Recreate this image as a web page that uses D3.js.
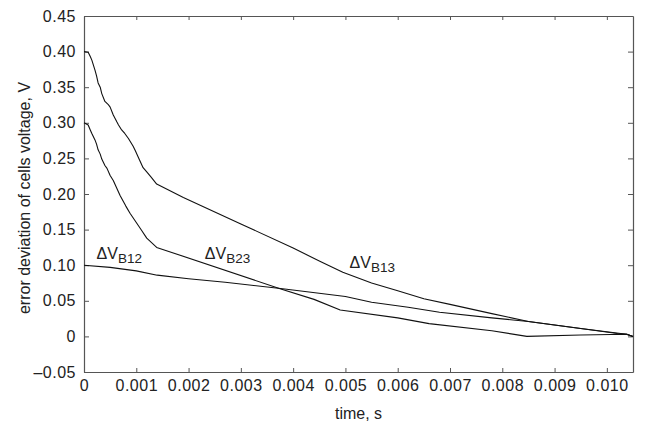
<!DOCTYPE html>
<html>
<head>
<meta charset="utf-8">
<script src="https://cdn.jsdelivr.net/npm/d3@7"></script>
<style>
  body { margin: 0; background: #fff; }
  svg text { font-family: "Liberation Sans", Arial, Helvetica, sans-serif; fill: #222; }
</style>
</head>
<body>
<div id="chart"></div>
<script>
// time (s) / voltage deviation (V) pairs
const dVB13 = [
    [0, 0.400], [0.00008, 0.399], [0.00012, 0.393], [0.00015, 0.388], [0.00021, 0.374],
    [0.00024, 0.366], [0.00027, 0.356], [0.00031, 0.350], [0.00034, 0.341], [0.0004, 0.330],
    [0.00046, 0.326], [0.0005, 0.322], [0.00056, 0.311], [0.00063, 0.301], [0.00066, 0.297],
    [0.00072, 0.290], [0.00078, 0.285], [0.00085, 0.278], [0.00094, 0.267], [0.00098, 0.261],
    [0.00106, 0.248], [0.00113, 0.237], [0.0012, 0.231], [0.00128, 0.224], [0.00139, 0.214],
    [0.0019, 0.195], [0.0030, 0.158], [0.0040, 0.124], [0.0045, 0.106], [0.00495, 0.090],
    [0.0055, 0.075], [0.0060, 0.064], [0.0065, 0.053], [0.0070, 0.045], [0.0078, 0.032],
    [0.0085, 0.021], [0.0095, 0.011], [0.0102, 0.004], [0.01038, 0.003], [0.0105, 0.0]
];
const dVB23 = [
    [0, 0.300], [0.00008, 0.297], [0.00012, 0.290], [0.00015, 0.285], [0.00021, 0.276],
    [0.00024, 0.270], [0.00027, 0.262], [0.00031, 0.256], [0.00034, 0.249], [0.0004, 0.240],
    [0.00044, 0.236], [0.0005, 0.226], [0.00056, 0.219], [0.00069, 0.198], [0.0008, 0.183],
    [0.00088, 0.173], [0.001, 0.160], [0.0011, 0.149], [0.0012, 0.138], [0.00139, 0.125],
    [0.00375, 0.067], [0.0044, 0.052], [0.0049, 0.037], [0.0060, 0.026], [0.0066, 0.018],
    [0.0078, 0.008], [0.00847, 0.000], [0.0095, 0.002], [0.01038, 0.003], [0.0105, 0.0]
];
const dVB12 = [
    [0, 0.100], [0.0005, 0.097], [0.0010, 0.092], [0.0014, 0.086], [0.0020, 0.081],
    [0.0027, 0.076], [0.0038, 0.067], [0.0050, 0.056], [0.0055, 0.048], [0.0062, 0.041],
    [0.0068, 0.034], [0.0078, 0.026], [0.0085, 0.021], [0.0095, 0.011], [0.01038, 0.003],
    [0.0105, 0.0]
];

const xTicks = [0, 0.001, 0.002, 0.003, 0.004, 0.005, 0.006, 0.007, 0.008, 0.009, 0.010];
const xTickLabels = ["0", "0.001", "0.002", "0.003", "0.004", "0.005", "0.006", "0.007", "0.008", "0.009", "0.010"];
const yTicks = [-0.05, 0, 0.05, 0.10, 0.15, 0.20, 0.25, 0.30, 0.35, 0.40, 0.45];
const yTickLabels = ["\u20130.05", "0", "0.05", "0.10", "0.15", "0.20", "0.25", "0.30", "0.35", "0.40", "0.45"];

// curve labels: subscript + anchor point in data units
const curveLabels = [
    { sub: "B12", t: 0.00024, v: 0.1094 },
    { sub: "B23", t: 0.00231, v: 0.1094 },
    { sub: "B13", t: 0.00508, v: 0.0961 }
];

const W = 648, H = 423;
const margin = { top: 16, right: 15, bottom: 51, left: 84 },
      width = W - margin.left - margin.right,
      height = H - margin.top - margin.bottom;

const svg = d3.select("#chart").append("svg")
    .attr("width", W)
    .attr("height", H);

const g = svg.append("g")
    .attr("transform", `translate(${margin.left},${margin.top})`);

const x = d3.scaleLinear().domain([0, 0.0105]).range([0, width]);
const y = d3.scaleLinear().domain([-0.05, 0.45]).range([height, 0]);

const axisColor = "#555";

function styleAxis(sel) {
    sel.select(".domain").attr("stroke", axisColor).attr("stroke-width", 1.2);
    sel.selectAll(".tick line").attr("stroke", axisColor).attr("stroke-width", 1);
    sel.selectAll("text")
        .style("font-size", "16px")
        .style("letter-spacing", "0.5px")
        .attr("fill", "#222");
}

g.append("g")
    .attr("transform", `translate(0,${height})`)
    .call(d3.axisBottom(x).tickValues(xTicks)
        .tickFormat((d, i) => xTickLabels[i])
        .tickSizeInner(-4).tickSizeOuter(0).tickPadding(8))
    .call(styleAxis);

g.append("g")
    .call(d3.axisTop(x).tickValues(xTicks).tickFormat("")
        .tickSizeInner(-4).tickSizeOuter(0))
    .call(styleAxis);

g.append("g")
    .call(d3.axisLeft(y).tickValues(yTicks)
        .tickFormat((d, i) => yTickLabels[i])
        .tickSizeInner(-5).tickSizeOuter(0).tickPadding(8))
    .call(styleAxis);

g.append("g")
    .attr("transform", `translate(${width},0)`)
    .call(d3.axisRight(y).tickValues(yTicks).tickFormat("")
        .tickSizeInner(-5).tickSizeOuter(0))
    .call(styleAxis);

const line = d3.line()
    .x(d => x(d[0]))
    .y(d => y(d[1]));

[dVB13, dVB23, dVB12].forEach(series => {
    g.append("path")
        .datum(series)
        .attr("fill", "none")
        .attr("stroke", "#111")
        .attr("stroke-width", 1.1)
        .attr("stroke-linejoin", "round")
        .attr("d", line);
});

curveLabels.forEach(lb => {
    const t = g.append("text")
        .attr("x", x(lb.t))
        .attr("y", y(lb.v))
        .style("font-size", "16px");
    t.append("tspan").text("\u0394V");
    t.append("tspan")
        .attr("dy", 4.5)
        .style("font-size", "13.5px")
        .text(lb.sub);
});

svg.append("text")
    .attr("transform", `translate(30,198) rotate(-90)`)
    .attr("text-anchor", "middle")
    .style("font-size", "16px")
    .text("error deviation of cells voltage, V");

svg.append("text")
    .attr("x", margin.left + width / 2)
    .attr("y", 419)
    .attr("text-anchor", "middle")
    .style("font-size", "16px")
    .text("time, s");
</script>
</body>
</html>
